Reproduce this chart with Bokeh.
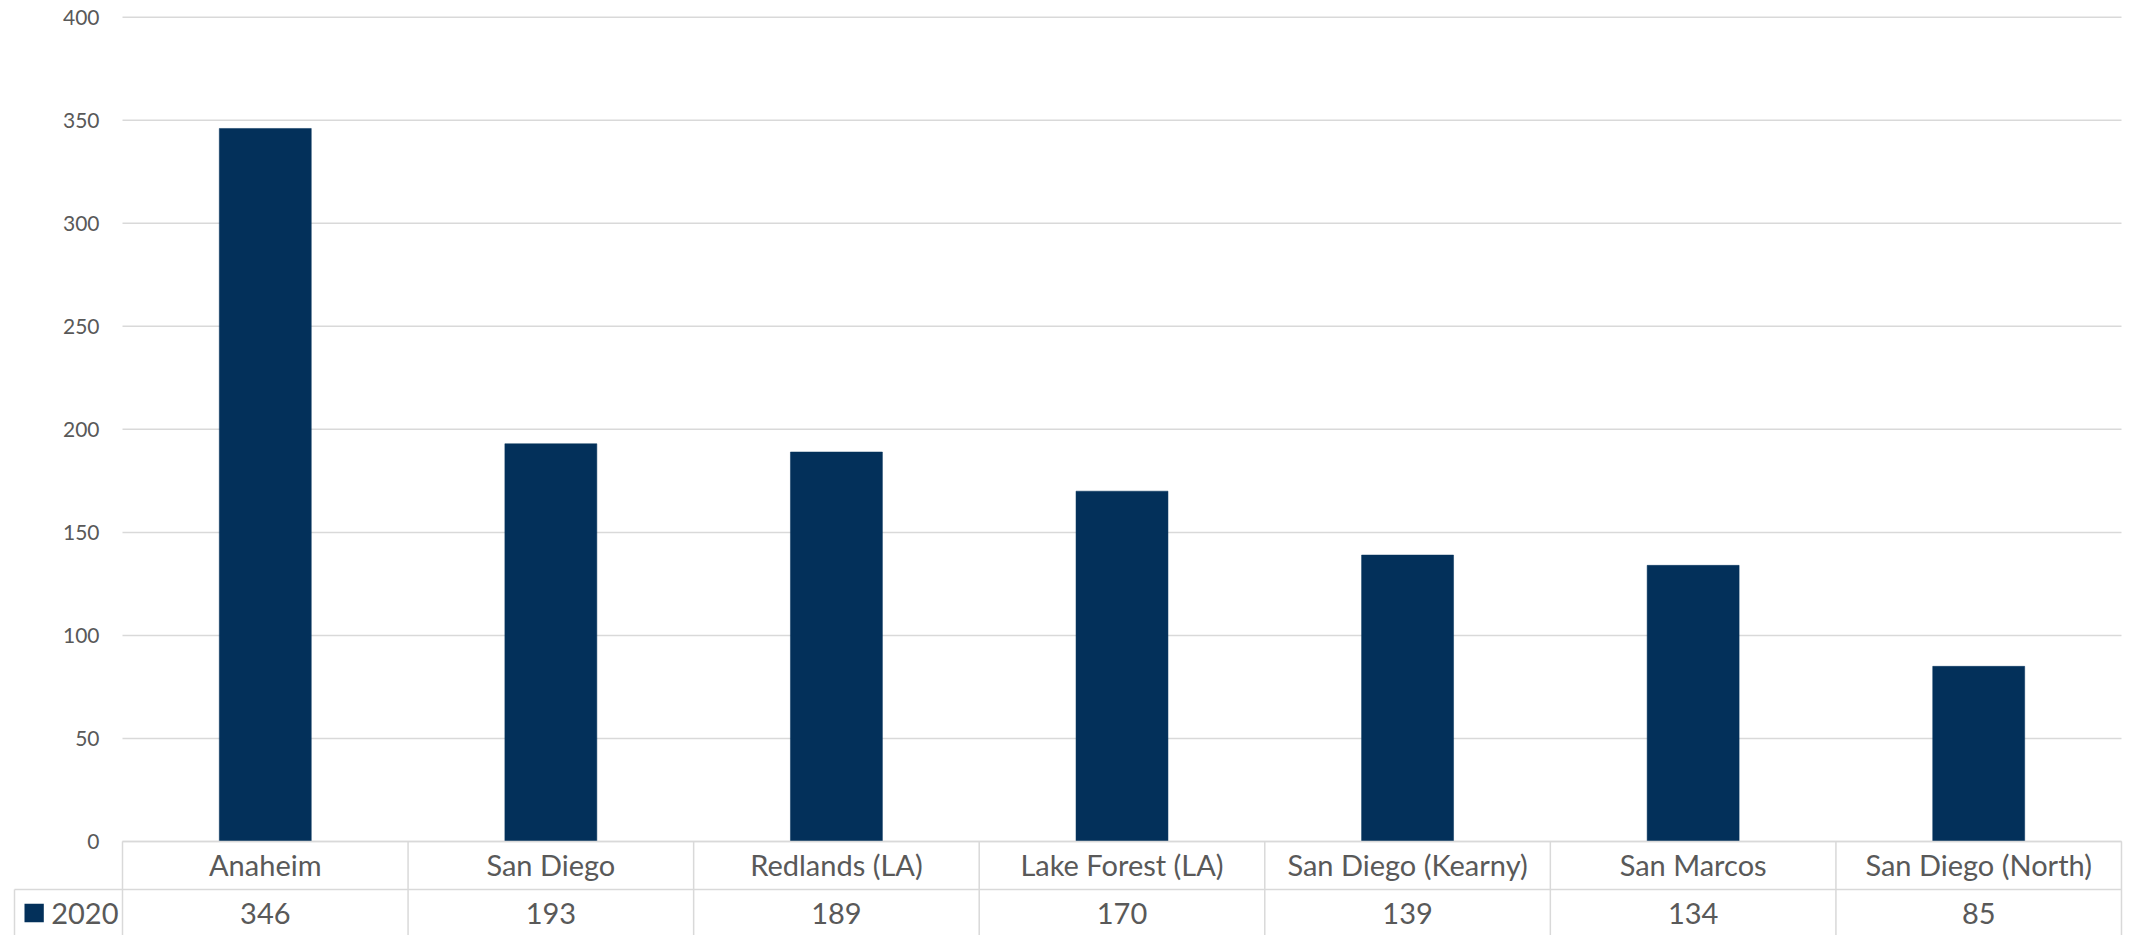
from bokeh.plotting import figure
from bokeh.models import Range1d, ColumnDataSource
from bokeh.core.properties import value
from bokeh.embed import file_html
from bokeh.resources import INLINE

# ---- data ----
categories = ["Anaheim", "San Diego", "Redlands (LA)", "Lake Forest (LA)",
              "San Diego (Kearny)", "San Marcos", "San Diego (North)"]
values_2020 = [346, 193, 189, 170, 139, 134, 85]
series_name = "2020"
y_ticks = [0, 50, 100, 150, 200, 250, 300, 350, 400]

# ---- style / layout ----
BAR = "#03305A"
TEXT = "#595959"
GRID = "#D9D9D9"
FONT = "Lato"
W, H = 2129, 935
PX_X = 285.57          # pixels per category
PX_Y = 2.0608          # pixels per value unit
PLOT_LEFT_PX = 122     # left edge of plot area / table
ZERO_PX = 841          # pixel row of value 0
X_START = -0.5 - PLOT_LEFT_PX / PX_X
X_END = X_START + W / PX_X
Y_END = ZERO_PX / PX_Y
Y_START = Y_END - H / PX_Y

def dy(px_from_zero):
    """pixel distance below the zero line -> value units"""
    return -px_from_zero / PX_Y

ROW1 = dy(48)          # separator between category row and value row
CAT_MID = dy(23.2)
VAL_MID = dy(72.0)
LEG_W = 108 / PX_X     # width of the series cell left of the table

idx = list(range(len(categories)))
bounds = [i - 0.5 for i in range(len(categories) + 1)]

p = figure(width=W, height=H, output_backend="svg", toolbar_location=None,
           x_range=Range1d(X_START, X_END), y_range=Range1d(Y_START, Y_END),
           x_axis_location=None, y_axis_location=None,
           min_border_left=0, min_border_right=0,
           min_border_top=0, min_border_bottom=0, tools="")
p.outline_line_color = None
p.grid.visible = False
p.background_fill_color = "white"
p.border_fill_color = "white"

# gridlines and value-axis labels
p.segment(x0=bounds[0], x1=bounds[-1], y0=y_ticks, y1=y_ticks,
          line_color=GRID, line_width=1.5)
p.text(x=bounds[0], y=y_ticks, text=[str(t) for t in y_ticks], x_offset=-23,
       text_align="right", text_baseline="middle", text_font=value(FONT),
       text_font_size="21px", text_color=TEXT)

src = ColumnDataSource(dict(x=idx, top=values_2020, cat=categories,
                            val=[str(v) for v in values_2020]))
bars = p.vbar(x="x", top="top", bottom=0, width=0.322, source=src,
              fill_color=BAR, line_color=BAR, line_width=0.5)

# data table lines
p.segment(x0=[bounds[0], bounds[0] - LEG_W], x1=[bounds[-1], bounds[-1]],
          y0=[0, ROW1], y1=[0, ROW1], line_color=GRID, line_width=1.5)
p.segment(x0=bounds, x1=bounds, y0=0, y1=Y_START,
          line_color=GRID, line_width=1.5)
p.segment(x0=bounds[0] - LEG_W, x1=bounds[0] - LEG_W, y0=ROW1, y1=Y_START,
          line_color=GRID, line_width=1.5)

p.text(x="x", y=CAT_MID, text="cat", source=src, text_align="center",
       text_baseline="middle", text_font=value(FONT), text_font_size="29px",
       text_color=TEXT)
p.text(x="x", y=VAL_MID, text="val", source=src, text_align="center",
       text_baseline="middle", text_font=value(FONT), text_font_size="29px",
       text_color=TEXT)

# series key in the table's first column
p.quad(left=bounds[0] - 98 / PX_X, right=bounds[0] - 78.7 / PX_X,
       top=dy(62.3), bottom=dy(80.7), fill_color=BAR, line_color=None)
p.text(x=bounds[0], y=VAL_MID, text=[series_name], x_offset=-71.3,
       text_align="left", text_baseline="middle", text_font=value(FONT),
       text_font_size="29px", text_color=TEXT)

open("out.html", "w").write(file_html(p, INLINE))
